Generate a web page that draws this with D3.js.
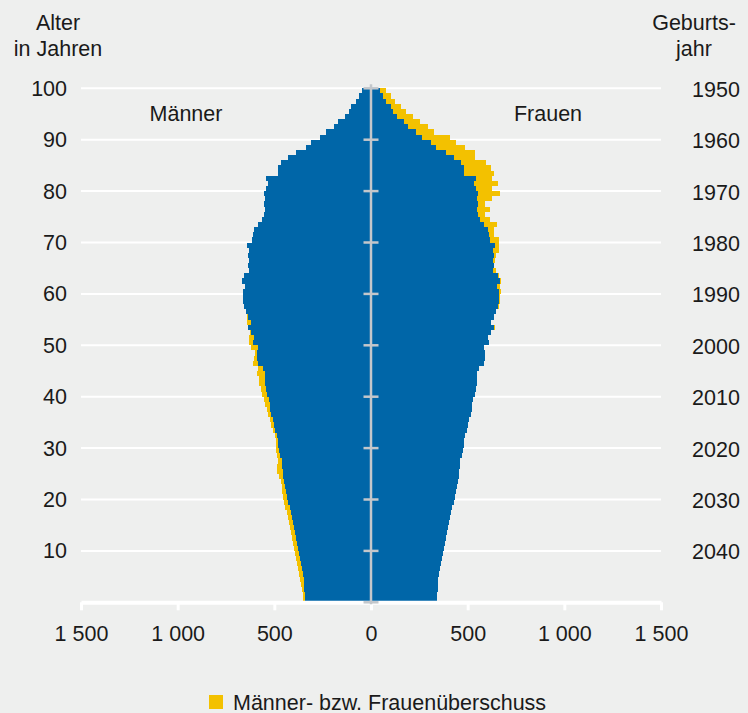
<!DOCTYPE html>
<html>
<head>
<meta charset="utf-8">
<script src="https://cdn.jsdelivr.net/npm/d3@7"></script>
<style>
  body { margin: 0; background: #eeefee; }
  svg text { font-family: "Liberation Sans", Arial, sans-serif; fill: #1a1a1a; }
</style>
</head>
<body>
<svg id="chart" width="748" height="713"></svg>
<script>
// Bevölkerung nach Alter (in Tausend), Alter 0 bis 99
var maenner = [
  353, 353, 359, 364, 369, 374, 379, 384, 390, 395,
  400, 405, 410, 415, 421, 426, 431, 436, 447, 452,
  457, 462, 462, 467, 478, 488, 488, 483, 488, 493,
  493, 493, 498, 509, 519, 524, 534, 540, 550, 555,
  565, 571, 581, 581, 591, 586, 612, 607, 602, 622,
  633, 633, 628, 638, 643, 643, 648, 659, 664, 664,
  664, 653, 669, 659, 633, 638, 633, 638, 633, 643,
  617, 612, 607, 586, 565, 555, 550, 555, 550, 555,
  545, 534, 545, 483, 483, 467, 431, 390, 338, 312,
  265, 234, 193, 172, 136, 116, 105, 79, 64, 47
];
var frauen = [
  340, 341, 345, 345, 347, 352, 357, 362, 367, 372,
  378, 383, 388, 393, 397, 403, 410, 415, 421, 428,
  433, 438, 443, 448, 453, 453, 459, 460, 469, 474,
  479, 479, 484, 495, 500, 507, 519, 524, 524, 529,
  540, 545, 550, 550, 550, 560, 586, 591, 591, 586,
  612, 607, 622, 643, 622, 638, 648, 662, 665, 665,
  674, 665, 674, 664, 648, 638, 643, 648, 660, 664,
  664, 638, 634, 653, 617, 591, 617, 588, 628, 669,
  628, 659, 628, 634, 622, 597, 540, 540, 488, 441,
  410, 328, 297, 252, 219, 181, 157, 126, 102, 79
];
var ageTicks = [10, 20, 30, 40, 50, 60, 70, 80, 90, 100];
var xTicks = [-1500, -1000, -500, 0, 500, 1000, 1500];
var titleLeft = ["Alter", "in Jahren"];
var titleRight = ["Geburts-", "jahr"];
var legendLabel = "Männer- bzw. Frauenüberschuss";
var basisJahr = 2050;

var blueColor = "#0066a8";
var yellowColor = "#f3c100";
var greyColor = "#c3c7cb";
var whiteColor = "#ffffff";
var fontSize = "21.5px";

var svg = d3.select("#chart");
var cx = 371;

var x = d3.scaleLinear().domain([0, 1500]).range([0, 290]);
var xAxisScale = d3.scaleLinear().domain([-1500, 1500]).range([cx - 290, cx + 290]);
var y = d3.scaleLinear().domain([0, 100]).range([602.3, 88.3]);

var data = maenner.map(function (m, i) {
  return { age: i, m: m, f: frauen[i], b: Math.min(m, frauen[i]) };
});

svg.append("rect").attr("width", 748).attr("height", 713).attr("fill", "#eeefee");

// gridlines
svg.selectAll(".grid").data(ageTicks).enter().append("line")
  .attr("class", "grid")
  .attr("x1", cx - 290).attr("x2", cx + 290)
  .attr("y1", function (d) { return y(d); })
  .attr("y2", function (d) { return y(d); })
  .style("stroke", whiteColor)
  .style("stroke-width", 2);

// bars
var bars = svg.append("g").attr("shape-rendering", "crispEdges");
bars.selectAll(".bl").data(data).enter().append("rect")
  .attr("x", function (d) { return cx - x(d.b); })
  .attr("y", function (d) { return y(d.age + 1); })
  .attr("width", function (d) { return 2 * x(d.b); })
  .attr("height", function (d) { return y(d.age) - y(d.age + 1); })
  .attr("fill", blueColor);
bars.selectAll(".ym").data(data.filter(function (d) { return d.m > d.f; })).enter().append("rect")
  .attr("x", function (d) { return cx - x(d.m); })
  .attr("y", function (d) { return y(d.age + 1); })
  .attr("width", function (d) { return x(d.m) - x(d.b); })
  .attr("height", function (d) { return y(d.age) - y(d.age + 1); })
  .attr("fill", yellowColor);
bars.selectAll(".yf").data(data.filter(function (d) { return d.f > d.m; })).enter().append("rect")
  .attr("x", function (d) { return cx + x(d.b); })
  .attr("y", function (d) { return y(d.age + 1); })
  .attr("width", function (d) { return x(d.f) - x(d.b); })
  .attr("height", function (d) { return y(d.age) - y(d.age + 1); })
  .attr("fill", yellowColor);

// x axis
var locale = d3.formatLocale({ decimal: ",", thousands: " ", grouping: [3], currency: ["", " €"] });
var fmt = locale.format(",");
var xAxis = d3.axisBottom(xAxisScale)
  .tickValues(xTicks)
  .tickSizeInner(8)
  .tickSizeOuter(0)
  .tickPadding(15)
  .tickFormat(function (d) { return fmt(Math.abs(d)); });
var gx = svg.append("g").attr("transform", "translate(0," + y(0) + ")").call(xAxis);
gx.select(".domain").style("stroke", whiteColor).style("stroke-width", 4);
gx.selectAll(".tick line").style("stroke", whiteColor).style("stroke-width", 3);
gx.selectAll(".tick text").style("font-size", fontSize).style("font-family", "Liberation Sans, Arial, sans-serif").attr("fill", "#1a1a1a");

// centre line with ticks
svg.append("line")
  .attr("x1", cx).attr("x2", cx)
  .attr("y1", y(100) - 4).attr("y2", y(0) + 2)
  .style("stroke", greyColor).style("stroke-width", 2.5);
svg.selectAll(".ctick").data([0].concat(ageTicks)).enter().append("line")
  .attr("x1", cx - 7.5).attr("x2", cx + 7.5)
  .attr("y1", function (d) { return y(d); })
  .attr("y2", function (d) { return y(d); })
  .style("stroke", greyColor).style("stroke-width", 2.5);

// age labels and birth years
svg.selectAll(".agelab").data(ageTicks).enter().append("text")
  .attr("x", 67)
  .attr("y", function (d) { return y(d) + 7.5; })
  .attr("text-anchor", "end")
  .style("font-size", fontSize)
  .text(function (d) { return d; });
svg.selectAll(".yearlab").data(ageTicks).enter().append("text")
  .attr("x", 716)
  .attr("y", function (d) { return y(d) + 8.5; })
  .attr("text-anchor", "middle")
  .style("font-size", fontSize)
  .text(function (d) { return basisJahr - d; });

svg.selectAll(".tl").data(titleLeft).enter().append("text")
  .attr("x", 58)
  .attr("y", function (d, i) { return 29.5 + i * 26; })
  .attr("text-anchor", "middle")
  .style("font-size", fontSize)
  .text(function (d) { return d; });
svg.selectAll(".tr").data(titleRight).enter().append("text")
  .attr("x", 694)
  .attr("y", function (d, i) { return 29.5 + i * 26; })
  .attr("text-anchor", "middle")
  .style("font-size", fontSize)
  .text(function (d) { return d; });

svg.append("text").attr("x", 186).attr("y", 120.5).attr("text-anchor", "middle")
  .style("font-size", fontSize).text("Männer");
svg.append("text").attr("x", 548).attr("y", 120.5).attr("text-anchor", "middle")
  .style("font-size", fontSize).text("Frauen");

// legend
svg.append("rect").attr("x", 209).attr("y", 695).attr("width", 14).attr("height", 14).attr("fill", yellowColor);
svg.append("text").attr("x", 233).attr("y", 709.5)
  .style("font-size", fontSize).text(legendLabel);
</script>
</body>
</html>
